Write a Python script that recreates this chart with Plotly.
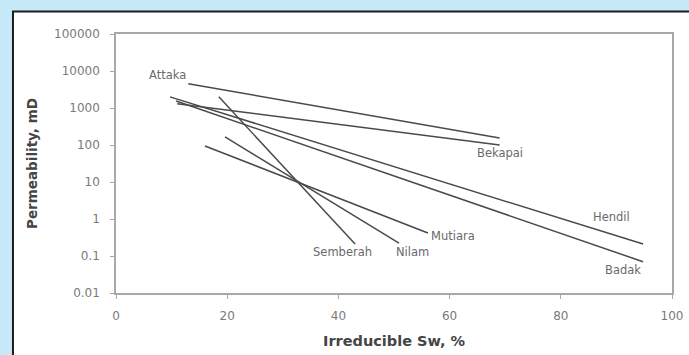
import math
import plotly.graph_objects as go

# Irreducible water saturation (%) vs permeability (mD) trend lines per field
fields = ["Attaka", "Bekapai", "Hendil", "Badak", "Semberah", "Nilam", "Mutiara"]
sw_start = [13.0, 11.0, 9.7, 10.8, 18.5, 19.6, 16.0]
sw_end = [69.0, 69.0, 94.8, 94.8, 43.0, 50.9, 56.1]
perm_start = [4500, 1300, 2000, 1550, 2000, 165, 94]
perm_end = [155, 100, 0.21, 0.07, 0.21, 0.224, 0.42]

# Field name label positions (Sw %, permeability mD)
label_sw = [9.2, 69.1, 89.2, 91.2, 40.8, 53.4, 60.6]
label_perm = [7800, 61, 1.13, 0.042, 0.128, 0.128, 0.35]

x_ticks = [0, 20, 40, 60, 80, 100]
y_ticks = [0.01, 0.1, 1, 10, 100, 1000, 10000, 100000]
y_ticktext = ["0.01", "0.1", "1", "10", "100", "1000", "10000", "100000"]

LINE_COLOR = "#4a4a4a"
AXIS_COLOR = "#a8a8a8"
TICK_FONT = dict(family="DejaVu Sans", size=12, color="#7a7a7a")
LABEL_FONT = dict(family="DejaVu Sans", size=11.5, color="#6a6a6a")
X_TITLE_FONT = dict(family="DejaVu Sans", size=14.5, color="#454545", weight="bold")
Y_TITLE_FONT = dict(family="DejaVu Sans", size=13.5, color="#454545", weight="bold")

fig = go.Figure()
for name, x0, x1, y0, y1 in zip(fields, sw_start, sw_end, perm_start, perm_end):
    fig.add_trace(go.Scatter(
        x=[x0, x1], y=[y0, y1], mode="lines", name=name,
        line=dict(color=LINE_COLOR, width=1.5), showlegend=False,
        hoverinfo="skip",
    ))

for name, lx, ly in zip(fields, label_sw, label_perm):
    fig.add_annotation(x=lx, y=math.log10(ly), text=name, showarrow=False,
                       font=LABEL_FONT, xanchor="center", yanchor="middle")

# White panel with dark frame on the blue page
fig.add_shape(type="rect", xref="paper", yref="paper",
              x0=-0.1853, x1=1.06, y0=-0.31, y1=1.0869,
              fillcolor="white", line=dict(color="#1c1c1c", width=2),
              layer="below")

fig.update_layout(
    width=689, height=355,
    margin=dict(l=116, r=17, t=34, b=62, autoexpand=False),
    paper_bgcolor="#c6e9f8",
    plot_bgcolor="rgba(0,0,0,0)",
    xaxis=dict(
        range=[0, 100], tickvals=x_ticks, showgrid=False, zeroline=False,
        automargin=False,
        showline=True, mirror=True, linecolor=AXIS_COLOR, linewidth=1.5,
        ticks="outside", ticklen=4, tickcolor=AXIS_COLOR, tickwidth=1,
        tickfont=TICK_FONT, ticklabelstandoff=7,
        title=dict(text="Irreducible Sw, %", font=X_TITLE_FONT, standoff=14),
    ),
    yaxis=dict(
        type="log", range=[-2, 5], tickvals=y_ticks, ticktext=y_ticktext,
        showgrid=False, zeroline=False, automargin=False,
        showline=True, mirror=True, linecolor=AXIS_COLOR, linewidth=1.5,
        ticks="outside", ticklen=4, tickcolor=AXIS_COLOR, tickwidth=1,
        tickfont=TICK_FONT, ticklabelstandoff=8,
        title=dict(text="Permeability, mD", font=Y_TITLE_FONT, standoff=13),
    ),
)

fig.write_html("out.html")
